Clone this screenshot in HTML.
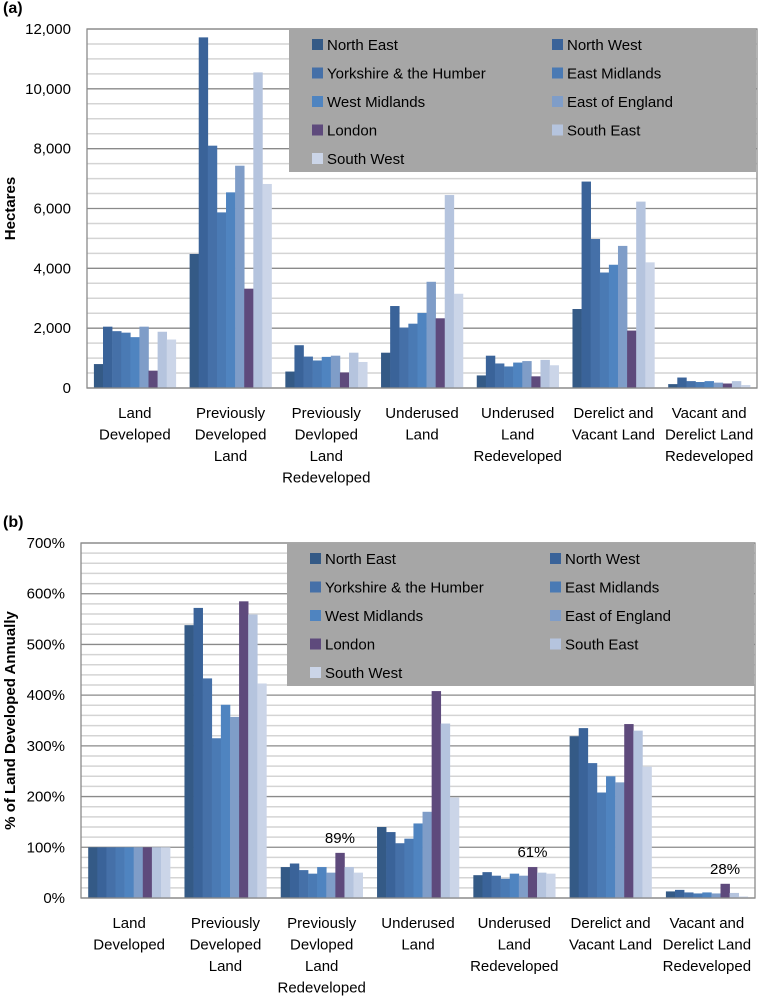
<!DOCTYPE html>
<html><head><meta charset="utf-8"><style>
body{margin:0;background:#fff;}
svg{display:block;font-family:"Liberation Sans",sans-serif;}
</style></head><body>
<svg id="s" width="764" height="1000" xmlns="http://www.w3.org/2000/svg"></svg>
<script>
const categories=[["Land","Developed"],["Previously","Developed","Land"],["Previously","Devloped","Land","Redeveloped"],["Underused","Land"],["Underused","Land","Redeveloped"],["Derelict and","Vacant Land"],["Vacant  and","Derelict Land","Redeveloped"]];
const regions=["North East","North West","Yorkshire & the Humber","East Midlands","West Midlands","East of England","London","South East","South West"];
const colors=["#345a86","#3a6399","#4570a8","#4a7ab4","#4f84c0","#7f9dc8","#5e4a7c","#b5c4de","#cbd5e8"];
const hectares=[
[800,2050,1900,1850,1700,2050,580,1880,1620],
[4480,11720,8100,5870,6540,7430,3320,10550,6820],
[550,1430,1050,920,1040,1080,520,1180,870],
[1180,2740,2020,2150,2510,3550,2330,6450,3150],
[420,1080,820,720,850,900,390,940,760],
[2640,6900,4980,3860,4120,4750,1920,6230,4200],
[130,350,230,200,230,180,150,230,100]];
const pct=[
[100,100,100,100,100,100,100,100,100],
[538,572,433,315,381,357,585,559,423],
[61,68,55,48,61,50,89,61,50],
[140,130,108,117,147,170,408,344,198],
[45,51,44,38,48,44,61,50,48],
[319,335,266,208,240,228,343,330,259],
[13,16,11,9,11,9,28,10,3]];
const ticksA=[0,2000,4000,6000,8000,10000,12000];
const ticksB=[0,100,200,300,400,500,600,700];
const annotations=[null,null,"89%",null,"61%",null,"28%"];

const NS="http://www.w3.org/2000/svg";
const svg=document.getElementById('s');
function el(t,a,p){const e=document.createElementNS(NS,t);for(const k in a)e.setAttribute(k,a[k]);(p||svg).appendChild(e);return e;}

function chart(o){
  const g=el('g',{});
  
  
  const y=v=>o.y0-(v/o.max)*(o.y0-o.top);
  for(let v=0;v<=o.max;v+=o.minor){
    const l=el('line',{x1:o.left,x2:o.right,y1:y(v),y2:y(v),stroke:v%o.major===0?'#8a8a8a':'#d4d4d4','stroke-width':v%o.major===0?1.3:1.5},g);
    
    
  }
  o.ticks.forEach(t=>{
    const tx=el('text',{x:o.left-16,y:y(t)+5,'text-anchor':'end','font-size':15,fill:'#000'},g);
    tx.textContent=o.fmt(t);
    
    
  });
  const gw=(o.right-o.left)/categories.length;
  const bw=9.1, off=(gw-9*bw)/2;
  o.data.forEach((row,i)=>{
    row.forEach((v,j)=>{
      const r=el('rect',{x:o.left+i*gw+off+j*bw,y:y(v),width:bw+0.3,height:o.y0-y(v),fill:colors[j]},g);
      
      
    });
    categories[i].forEach((line,k)=>{
      const t=el('text',{x:o.left+i*gw+gw/2,y:o.y0+30+k*21.5,'text-anchor':'middle','font-size':15,fill:'#000'},g);
      t.textContent=line;
      
      
    });
    if(o.ann&&o.ann[i]){
      const mx=Math.max(...row);
      const t=el('text',{x:o.left+i*gw+off+6.5*bw,y:y(mx)-10,'text-anchor':'middle','font-size':15,fill:'#000'},g);
      t.textContent=o.ann[i];
      
      
    }
  });
  const b=el('rect',{x:o.left,y:o.top,width:o.right-o.left,height:o.y0-o.top,fill:'none',stroke:'#8a8a8a','stroke-width':1.3},g);
  
  
  const lg=el('g',{},g);
  
  
  el('rect',{x:o.lx,y:o.ly,width:o.right-o.lx-1,height:143,fill:'#a6a6a6'},lg);
  regions.forEach((r,j)=>{
    const cx=o.lx+23+(j%2)*240, cy=o.ly+11+Math.floor(j/2)*28.5;
    const sw=el('rect',{x:cx,y:cy-1,width:11,height:11,fill:colors[j]},lg);
    
    
    const t=el('text',{x:cx+15,y:cy+10,'font-size':15,fill:'#000'},lg);
    t.textContent=r;
    
    
  });
  const ttl=el('text',{x:o.tx,y:(o.top+o.y0)/2,'text-anchor':'middle','font-size':15,'font-weight':'bold',transform:`rotate(-90 ${o.tx} ${(o.top+o.y0)/2})`},g);
  ttl.textContent=o.title;
  
  
  const p=el('text',{x:3,y:o.py,'font-size':16,'font-weight':'bold'},g);
  p.textContent=o.panel;
  
  
}
chart({name:'chart-a-hectares',data:hectares,ticks:ticksA,max:12000,minor:500,major:2000,left:87,right:757,top:29,y0:388,lx:289,ly:29,tx:15,title:'Hectares',panel:'(a)',py:13,fmt:v=>v.toLocaleString('en-US')});
chart({name:'chart-b-percent',data:pct,ticks:ticksB,max:700,minor:20,major:100,left:81,right:755,top:543,y0:898,lx:287,ly:543,tx:15,title:'% of Land Developed Annually',panel:'(b)',py:527,fmt:v=>v+'%',ann:annotations});
</script>
</body></html>
